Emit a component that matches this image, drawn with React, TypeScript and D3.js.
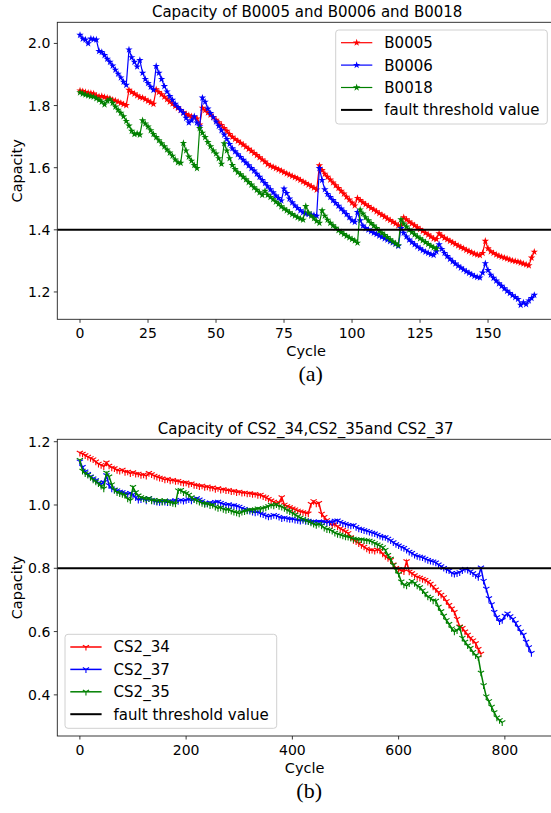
import React from 'react';
import * as d3 from 'd3';

const W = 551;
const H = 813;

// NASA batteries, one capacity value per cycle (cycle = index)
const b0005 = [
  1.848, 1.846, 1.843, 1.841, 1.840, 1.838, 1.832, 1.829, 1.830, 1.827,
  1.825, 1.822, 1.818, 1.816, 1.812, 1.808, 1.804, 1.801, 1.850, 1.843,
  1.838, 1.832, 1.827, 1.825, 1.820, 1.815, 1.810, 1.805, 1.852, 1.843,
  1.836, 1.828, 1.820, 1.812, 1.806, 1.798, 1.792, 1.785, 1.778, 1.772,
  1.768, 1.765, 1.762, 1.758, 1.738, 1.792, 1.785, 1.777, 1.770, 1.762,
  1.754, 1.746, 1.737, 1.727, 1.718, 1.708, 1.699, 1.692, 1.686, 1.680,
  1.674, 1.667, 1.660, 1.654, 1.647, 1.640, 1.633, 1.626, 1.619, 1.611,
  1.606, 1.602, 1.598, 1.594, 1.590, 1.585, 1.581, 1.577, 1.573, 1.569,
  1.565, 1.560, 1.555, 1.550, 1.545, 1.540, 1.535, 1.529, 1.607, 1.592,
  1.580, 1.570, 1.561, 1.552, 1.543, 1.534, 1.525, 1.516, 1.506, 1.497,
  1.487, 1.478, 1.502, 1.495, 1.488, 1.482, 1.476, 1.470, 1.465, 1.459,
  1.453, 1.448, 1.442, 1.436, 1.431, 1.425, 1.420, 1.414, 1.412, 1.440,
  1.433, 1.426, 1.420, 1.414, 1.408, 1.402, 1.396, 1.390, 1.384, 1.378,
  1.372, 1.370, 1.388, 1.380, 1.374, 1.369, 1.364, 1.359, 1.354, 1.349,
  1.344, 1.340, 1.335, 1.331, 1.327, 1.323, 1.320, 1.318, 1.325, 1.364,
  1.340, 1.330, 1.325, 1.320, 1.316, 1.313, 1.310, 1.307, 1.304, 1.301,
  1.299, 1.297, 1.294, 1.291, 1.288, 1.285, 1.310, 1.329,
];

const b0006 = [
  2.027, 2.015, 2.012, 2.000, 2.015, 2.013, 2.012, 1.975, 1.972, 1.962,
  1.950, 1.940, 1.928, 1.915, 1.902, 1.890, 1.876, 1.866, 1.980, 1.955,
  1.940, 1.925, 1.946, 1.905, 1.885, 1.872, 1.860, 1.850, 1.927, 1.905,
  1.885, 1.862, 1.845, 1.830, 1.818, 1.805, 1.795, 1.785, 1.776, 1.760,
  1.745, 1.752, 1.765, 1.745, 1.733, 1.825, 1.812, 1.790, 1.775, 1.762,
  1.748, 1.734, 1.720, 1.706, 1.692, 1.676, 1.662, 1.652, 1.643, 1.634,
  1.625, 1.616, 1.607, 1.598, 1.590, 1.580, 1.570, 1.560, 1.550, 1.540,
  1.530, 1.520, 1.510, 1.502, 1.494, 1.532, 1.518, 1.500, 1.488, 1.478,
  1.470, 1.462, 1.456, 1.452, 1.450, 1.449, 1.447, 1.445, 1.598, 1.560,
  1.530, 1.515, 1.505, 1.495, 1.486, 1.477, 1.468, 1.459, 1.450, 1.440,
  1.430, 1.425, 1.457, 1.430, 1.413, 1.405, 1.400, 1.395, 1.390, 1.386,
  1.381, 1.377, 1.372, 1.368, 1.363, 1.359, 1.354, 1.348, 1.405, 1.390,
  1.378, 1.368, 1.360, 1.353, 1.346, 1.340, 1.334, 1.329, 1.325, 1.321,
  1.319, 1.330, 1.353, 1.338, 1.325, 1.315, 1.306, 1.298, 1.291, 1.284,
  1.278, 1.272, 1.266, 1.261, 1.256, 1.251, 1.248, 1.246, 1.262, 1.292,
  1.270, 1.255, 1.245, 1.236, 1.227, 1.219, 1.211, 1.203, 1.196, 1.189,
  1.183, 1.177, 1.158, 1.166, 1.160, 1.172, 1.180, 1.190,
];

const b0018 = [
  1.842, 1.838, 1.835, 1.832, 1.830, 1.828, 1.823, 1.818, 1.812, 1.803,
  1.815, 1.820, 1.808, 1.796, 1.786, 1.776, 1.765, 1.750, 1.735, 1.718,
  1.708, 1.710, 1.706, 1.752, 1.742, 1.732, 1.720, 1.708, 1.698, 1.688,
  1.678, 1.668, 1.658, 1.648, 1.638, 1.626, 1.617, 1.615, 1.679, 1.655,
  1.635, 1.622, 1.608, 1.598, 1.727, 1.712, 1.698, 1.682, 1.668, 1.655,
  1.645, 1.630, 1.612, 1.678, 1.655, 1.630, 1.608, 1.595, 1.585, 1.578,
  1.570, 1.562, 1.553, 1.545, 1.536, 1.528, 1.520, 1.512, 1.525, 1.512,
  1.505, 1.498, 1.490, 1.483, 1.475, 1.468, 1.462, 1.456, 1.450, 1.445,
  1.440, 1.436, 1.432, 1.476, 1.455, 1.445, 1.437, 1.428, 1.422, 1.462,
  1.445, 1.432, 1.422, 1.414, 1.406, 1.398, 1.392, 1.386, 1.380, 1.375,
  1.370, 1.365, 1.358, 1.465, 1.452, 1.440, 1.430, 1.421, 1.413, 1.405,
  1.397, 1.390, 1.383, 1.376, 1.369, 1.362, 1.356, 1.350, 1.433, 1.420,
  1.410, 1.400, 1.392, 1.385, 1.378, 1.372, 1.366, 1.360, 1.354, 1.348,
  1.343, 1.340,
];

// CALCE cells, one reading every 5 cycles
const cs2Step = 5;

const cs2_34 = [
  1.165, 1.162, 1.157, 1.152, 1.148, 1.144, 1.137, 1.130, 1.126, 1.122,
  1.134, 1.124, 1.118, 1.116, 1.110, 1.108, 1.111, 1.104, 1.105, 1.100,
  1.103, 1.098, 1.099, 1.094, 1.096, 1.092, 1.101, 1.097, 1.092, 1.089,
  1.086, 1.084, 1.080, 1.082, 1.077, 1.079, 1.075, 1.076, 1.072, 1.070,
  1.071, 1.066, 1.068, 1.063, 1.062, 1.059, 1.061, 1.056, 1.058, 1.054,
  1.055, 1.050, 1.053, 1.048, 1.050, 1.046, 1.047, 1.043, 1.044, 1.040,
  1.042, 1.038, 1.039, 1.036, 1.037, 1.034, 1.035, 1.031, 1.032, 1.027,
  1.024, 1.019, 1.014, 1.010, 1.005, 1.008, 1.024, 1.001, 0.996, 0.993,
  0.989, 0.986, 0.982, 0.979, 0.977, 0.975, 0.973, 1.003, 1.012, 1.004,
  1.006, 0.972, 0.962, 0.952, 0.944, 0.936, 0.940, 0.932, 0.926, 0.921,
  0.916, 0.911, 0.898, 0.889, 0.885, 0.879, 0.873, 0.868, 0.862, 0.857,
  0.858, 0.855, 0.859, 0.856, 0.846, 0.838, 0.832, 0.826, 0.812, 0.801,
  0.797, 0.793, 0.790, 0.822, 0.789, 0.784, 0.778, 0.772, 0.770, 0.766,
  0.763, 0.757, 0.751, 0.742, 0.733, 0.724, 0.716, 0.708, 0.696, 0.684,
  0.673, 0.662, 0.640, 0.616, 0.611, 0.600, 0.590, 0.580, 0.572, 0.563,
  0.545, 0.530,
];

const cs2_37 = [
  1.137, 1.120, 1.106, 1.098, 1.090, 1.084, 1.078, 1.070, 1.066, 1.072,
  1.094, 1.062, 1.052, 1.048, 1.046, 1.042, 1.040, 1.036, 1.034, 1.038,
  1.033, 1.024, 1.016, 1.018, 1.020, 1.014, 1.021, 1.016, 1.012, 1.010,
  1.009, 1.012, 1.010, 1.008, 1.013, 1.011, 1.015, 1.012, 1.016, 1.013,
  1.015, 1.018, 1.014, 1.019, 1.021, 1.017, 1.012, 1.006, 1.004, 1.008,
  1.005, 1.009, 1.010, 1.006, 1.003, 1.000, 1.002, 0.998, 0.999, 0.996,
  0.994, 0.990, 0.987, 0.984, 0.981, 0.978, 0.976, 0.978, 0.973, 0.970,
  0.966, 0.963, 0.965, 0.968, 0.966, 0.962, 0.958, 0.960, 0.957, 0.955,
  0.956, 0.953, 0.952, 0.950, 0.952, 0.949, 0.950, 0.947, 0.948, 0.946,
  0.948, 0.946, 0.947, 0.944, 0.946, 0.945, 0.950, 0.951, 0.946, 0.942,
  0.940, 0.937, 0.935, 0.936, 0.930, 0.925, 0.923, 0.920, 0.918, 0.915,
  0.912, 0.910, 0.906, 0.902, 0.899, 0.898, 0.893, 0.888, 0.882, 0.876,
  0.872, 0.867, 0.864, 0.858, 0.852, 0.848, 0.842, 0.838, 0.836, 0.834,
  0.830, 0.826, 0.823, 0.821, 0.818, 0.812, 0.806, 0.801, 0.796, 0.793,
  0.785, 0.782, 0.784, 0.787, 0.793, 0.798, 0.795, 0.790, 0.784, 0.778,
  0.772, 0.802, 0.760, 0.735, 0.705, 0.686, 0.662, 0.645, 0.632, 0.636,
  0.650, 0.657, 0.648, 0.640, 0.628, 0.614, 0.600, 0.590, 0.568, 0.550,
  0.532,
];

const cs2_35 = [
  1.142, 1.108, 1.100, 1.095, 1.088, 1.080, 1.074, 1.068, 1.060, 1.052,
  1.102, 1.090, 1.065, 1.048, 1.040, 1.037, 1.034, 1.031, 1.020, 1.015,
  1.057, 1.040, 1.030, 1.024, 1.021, 1.018, 1.021, 1.014, 1.016, 1.012,
  1.015, 1.010, 1.014, 1.011, 1.008, 1.006, 1.004, 1.046, 1.047, 1.040,
  1.037, 1.032, 1.024, 1.018, 1.014, 1.010, 1.006, 1.003, 1.004, 0.999,
  1.000, 0.994, 0.990, 0.992, 0.987, 0.984, 0.986, 0.981, 0.978, 0.976,
  0.973, 0.978, 0.980, 0.982, 0.985, 0.984, 0.986, 0.989, 0.987, 0.990,
  0.992, 0.996, 1.000, 0.998, 1.002, 0.996, 0.994, 0.990, 0.984, 0.980,
  0.975, 0.970, 0.964, 0.960, 0.956, 0.952, 0.948, 0.944, 0.940, 0.936,
  0.940, 0.935, 0.928, 0.923, 0.922, 0.918, 0.912, 0.908, 0.906, 0.903,
  0.900, 0.899, 0.896, 0.893, 0.892, 0.890, 0.891, 0.889, 0.888, 0.887,
  0.884, 0.879, 0.875, 0.871, 0.866, 0.858, 0.842, 0.830, 0.810, 0.795,
  0.782, 0.758, 0.748, 0.745, 0.752, 0.760, 0.753, 0.745, 0.740, 0.730,
  0.720, 0.710, 0.706, 0.698, 0.697, 0.678, 0.664, 0.650, 0.636, 0.624,
  0.610, 0.600, 0.604, 0.614, 0.580, 0.568, 0.556, 0.548, 0.535, 0.525,
  0.518, 0.470, 0.430, 0.395, 0.380, 0.362, 0.345, 0.328, 0.320, 0.313,
];

const topXTicks = [0, 25, 50, 75, 100, 125, 150];
const topYTicks = [1.2, 1.4, 1.6, 1.8, 2.0];
const botXTicks = [0, 200, 400, 600, 800];
const botYTicks = [0.4, 0.6, 0.8, 1.0, 1.2];

const topThreshold = 1.4;
const botThreshold = 0.8;

const FONT = '"DejaVu Sans", sans-serif';

const starPath = d3.symbol(d3.symbolStar, 17)() as string;
const triR = 3.6;
const triPath = `M0,0L0,${triR}M0,0L${-triR * 0.866},${-triR * 0.5}M0,0L${triR * 0.866},${-triR * 0.5}`;

type Series = { name: string; color: string; values: number[]; step: number };

function Marker({ kind, color, x, y }: { kind: string; color: string; x: number; y: number }) {
  if (kind === 'star')
    return <path d={starPath} transform={`translate(${x},${y})`} fill={color} />;
  return <path d={triPath} transform={`translate(${x},${y})`} fill="none" stroke={color} strokeWidth={1.1} />;
}

function Panel(props: {
  frame: { left: number; right: number; top: number; bottom: number };
  xDomain: [number, number];
  yDomain: [number, number];
  xTicks: number[];
  yTicks: number[];
  title: string;
  series: Series[];
  marker: string;
  lineWidth: number;
  threshold: number;
  legend: { x: number; y: number; w: number; h: number; order: string[] };
  caption: string;
}) {
  const { frame, series, marker, legend } = props;
  const x = d3.scaleLinear().domain(props.xDomain).range([frame.left, frame.right]);
  const y = d3.scaleLinear().domain(props.yDomain).range([frame.bottom, frame.top]);
  const fmt = d3.format('.1f');
  const cx = (frame.left + frame.right) / 2;
  const cy = (frame.top + frame.bottom) / 2;

  const legendItems = legend.order.map((n) => {
    const s = series.find((d) => d.name === n);
    return s ? { name: n, color: s.color, mark: true } : { name: n, color: '#000', mark: false };
  });

  return (
    <g fontFamily={FONT}>
      <text x={cx} y={frame.top - 5} textAnchor="middle" fontSize={15} fill="#000">{props.title}</text>

      {series.map((s) => {
        const line = d3.line<number>().x((_, i) => x(i * s.step)).y((d) => y(d));
        return (
          <g key={s.name}>
            <path d={line(s.values) as string} fill="none" stroke={s.color} strokeWidth={props.lineWidth} />
            {s.values.map((v, i) => (
              <Marker key={i} kind={marker} color={s.color} x={x(i * s.step)} y={y(v)} />
            ))}
          </g>
        );
      })}

      <line x1={frame.left} x2={frame.right} y1={y(props.threshold)} y2={y(props.threshold)} stroke="#000" strokeWidth={2} />

      <rect x={frame.left} y={frame.top} width={frame.right - frame.left} height={frame.bottom - frame.top}
        fill="none" stroke="#222" strokeWidth={0.9} />

      {props.xTicks.map((t) => (
        <g key={t}>
          <line x1={x(t)} x2={x(t)} y1={frame.bottom} y2={frame.bottom + 3.5} stroke="#222" strokeWidth={0.9} />
          <text x={x(t)} y={frame.bottom + 18.5} textAnchor="middle" fontSize={14} fill="#000">{t}</text>
        </g>
      ))}
      {props.yTicks.map((t) => (
        <g key={t}>
          <line x1={frame.left - 3.5} x2={frame.left} y1={y(t)} y2={y(t)} stroke="#222" strokeWidth={0.9} />
          <text x={frame.left - 7} y={y(t)} dy="0.36em" textAnchor="end" fontSize={14} fill="#000">{fmt(t)}</text>
        </g>
      ))}

      <text x={cx - 1} y={frame.bottom + 37} textAnchor="middle" fontSize={14.5} fill="#000">Cycle</text>
      <text transform={`translate(17,${cy}) rotate(-90)`} textAnchor="middle" dy="0.35em" fontSize={14.5} fill="#000">Capacity</text>

      <g>
        <rect x={legend.x} y={legend.y} width={legend.w} height={legend.h} rx={3} fill="#fff" fillOpacity={0.8}
          stroke="#d0d0d0" strokeWidth={1} />
        {legendItems.map((it, i) => {
          const ry = legend.y + 12.7 + i * 22.4;
          const lx0 = legend.x + 5.3;
          const lx1 = legend.x + 36.6;
          return (
            <g key={it.name}>
              <line x1={lx0} x2={lx1} y1={ry} y2={ry} stroke={it.color} strokeWidth={it.mark ? props.lineWidth : 2} />
              {it.mark && <Marker kind={marker} color={it.color} x={(lx0 + lx1) / 2} y={ry} />}
              <text x={legend.x + 48.6} y={ry} dy="0.36em" fontSize={15} fill="#000">{it.name}</text>
            </g>
          );
        })}
      </g>

      <text x={cx + 3.5} y={frame.bottom + 62} textAnchor="middle" fontSize={22}
        fontFamily='"Liberation Serif", serif' fill="#000">{props.caption}</text>
    </g>
  );
}

export default function App() {
  return (
    <svg width={W} height={H} style={{ position: 'absolute', left: 0, top: 0, background: '#fff' }}>
      <rect width={W} height={H} fill="#fff" />
      <Panel
        frame={{ left: 57.3, right: 557, top: 22.3, bottom: 319.3 }}
        xDomain={[-8.35, 175.35]}
        yDomain={[1.112, 2.068]}
        xTicks={topXTicks}
        yTicks={topYTicks}
        title="Capacity of B0005 and B0006 and B0018"
        series={[
          { name: 'B0005', color: '#ff0000', values: b0005, step: 1 },
          { name: 'B0006', color: '#0000ff', values: b0006, step: 1 },
          { name: 'B0018', color: '#008000', values: b0018, step: 1 },
        ]}
        marker="star"
        lineWidth={1.2}
        threshold={topThreshold}
        legend={{ x: 335.7, y: 30, w: 211.6, h: 94, order: ['B0005', 'B0006', 'B0018', 'fault threshold value'] }}
        caption="(a)"
      />
      <Panel
        frame={{ left: 57.3, right: 554, top: 439.3, bottom: 736 }}
        xDomain={[-42.5, 892.5]}
        yDomain={[0.27, 1.2076]}
        xTicks={botXTicks}
        yTicks={botYTicks}
        title="Capacity of CS2_34,CS2_35and CS2_37"
        series={[
          { name: 'CS2_34', color: '#ff0000', values: cs2_34, step: cs2Step },
          { name: 'CS2_37', color: '#0000ff', values: cs2_37, step: cs2Step },
          { name: 'CS2_35', color: '#008000', values: cs2_35, step: cs2Step },
        ]}
        marker="tri"
        lineWidth={1.5}
        threshold={botThreshold}
        legend={{ x: 65, y: 634.3, w: 211.7, h: 94, order: ['CS2_34', 'CS2_37', 'CS2_35', 'fault threshold value'] }}
        caption="(b)"
      />
    </svg>
  );
}
